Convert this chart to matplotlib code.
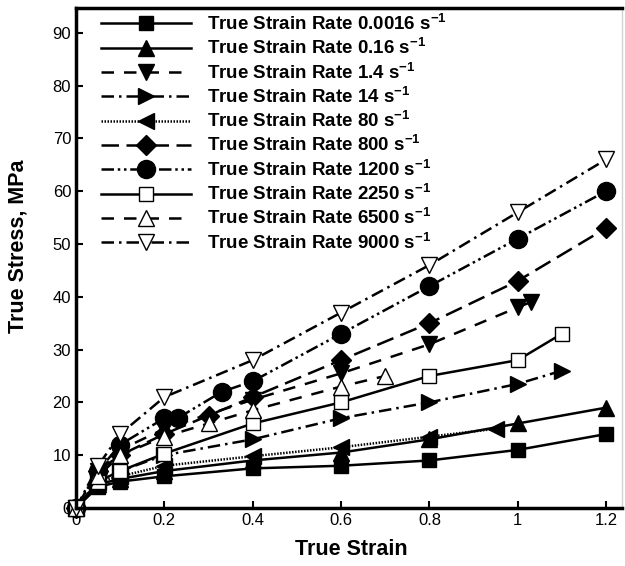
import numpy as np
import matplotlib
matplotlib.use('Agg')
import matplotlib.pyplot as plt

plt.rcParams['font.family'] = ['Liberation Sans', 'DejaVu Sans']
plt.rcParams['mathtext.fontset'] = 'custom'
plt.rcParams['mathtext.rm'] = 'Liberation Sans'
plt.rcParams['mathtext.bf'] = 'Liberation Sans:bold'
plt.rcParams['mathtext.default'] = 'bf'

# 数据
rates = ['0.0016', '0.16', '1.4', '14', '80', '800', '1200', '2250', '6500', '9000']

strain_0p0016 = [0, 0.05, 0.1, 0.2, 0.4, 0.6, 0.8, 1.0, 1.2]
stress_0p0016 = [0, 4, 5, 6, 7.5, 8, 9, 11, 14]

strain_0p16 = [0, 0.05, 0.1, 0.2, 0.4, 0.6, 0.8, 1.0, 1.2]
stress_0p16 = [0, 4.5, 5.5, 7, 9, 10.5, 13, 16, 19]

strain_1p4 = [0, 0.05, 0.1, 0.2, 0.4, 0.6, 0.8, 1.0, 1.03]
stress_1p4 = [0, 7, 11, 15, 20.5, 25.5, 31, 38, 39]

strain_14 = [0, 0.05, 0.1, 0.2, 0.4, 0.6, 0.8, 1.0, 1.1]
stress_14 = [0, 5, 7, 10, 13, 17, 20, 23.5, 26]

strain_80 = [0, 0.05, 0.1, 0.2, 0.4, 0.6, 0.8, 0.95]
stress_80 = [0, 5, 6, 8, 9.8, 11.5, 13.5, 15]

strain_800 = [0, 0.05, 0.1, 0.2, 0.3, 0.4, 0.6, 0.8, 1.0, 1.2]
stress_800 = [0, 7, 10, 14, 17.5, 21, 28, 35, 43, 53]

strain_1200 = [0, 0.05, 0.1, 0.2, 0.23, 0.33, 0.4, 0.6, 0.8, 1.0, 1.2]
stress_1200 = [0, 7, 12, 17, 17, 22, 24, 33, 42, 51, 60]

strain_2250 = [0, 0.05, 0.1, 0.2, 0.4, 0.6, 0.8, 1.0, 1.1]
stress_2250 = [0, 5, 7, 10.3, 16, 20, 25, 28, 33]

strain_6500 = [0, 0.05, 0.1, 0.2, 0.3, 0.4, 0.6, 0.7]
stress_6500 = [0, 6, 10, 13.5, 16, 18.5, 23, 25]

strain_9000 = [0, 0.05, 0.1, 0.2, 0.4, 0.6, 0.8, 1.0, 1.2]
stress_9000 = [0, 8, 14, 21, 28, 37, 46, 56, 66]

strains = [strain_0p0016, strain_0p16, strain_1p4, strain_14, strain_80,
           strain_800, strain_1200, strain_2250, strain_6500, strain_9000]
stresses = [stress_0p0016, stress_0p16, stress_1p4, stress_14, stress_80,
            stress_800, stress_1200, stress_2250, stress_6500, stress_9000]

# 线型 / 标记
styles = [
    dict(ls='-', marker='s', mfc='black', ms=10),
    dict(ls='-', marker='^', mfc='black', ms=12),
    dict(ls=(0, (5, 4)), marker='v', mfc='black', ms=12),
    dict(ls=(0, (5, 2, 1, 2)), marker='>', mfc='black', ms=11),
    dict(ls=(0, (0.6, 0.6)), marker='<', mfc='black', ms=11),
    dict(ls=(0, (7, 3)), marker='D', mfc='black', ms=10),
    dict(ls=(0, (5, 1.5, 1, 1.5, 1, 1.5)), marker='o', mfc='black', ms=13),
    dict(ls='-', marker='s', mfc='white', ms=9.5),
    dict(ls=(0, (5, 4)), marker='^', mfc='white', ms=11),
    dict(ls=(0, (5, 2, 1, 2)), marker='v', mfc='white', ms=11),
]

fig = plt.figure(figsize=(6.25, 5.66), dpi=100)
ax = fig.add_axes([0.1216, 0.1025, 0.8736, 0.8835])

for rate, x, y, st in zip(rates, strains, stresses, styles):
    ax.plot(x, y, color='black', lw=1.8, mec='black', mew=1.0,
            label=f'True Strain Rate {rate} s$^{{-1}}$', clip_on=False, **st)

ax.set_xlim(0, 1.236)
ax.set_ylim(0, 94.7)
ax.set_xticks([0, 0.2, 0.4, 0.6, 0.8, 1.0, 1.2])
ax.set_xticklabels(['0', '0.2', '0.4', '0.6', '0.8', '1', '1.2'])
ax.set_yticks(np.arange(0, 91, 10))
ax.tick_params(direction='in', length=5, width=1.5, labelsize=12)

for side in ['left', 'bottom', 'top']:
    ax.spines[side].set_linewidth(2.5)
ax.spines['right'].set_color('lightgray')
ax.spines['right'].set_linewidth(1)

ax.set_xlabel('True Strain', fontsize=15.5, fontweight='bold', va='top')
ax.set_ylabel('True Stress, MPa', fontsize=15.5, fontweight='bold')
ax.xaxis.set_label_coords(0.505, -0.062)
ax.yaxis.set_label_coords(-0.087, 0.524)

leg = ax.legend(loc='upper left', bbox_to_anchor=(0.015, 1.022), frameon=False,
                handlelength=4.8, handletextpad=0.85, labelspacing=0.225,
                prop={'size': 13.5, 'weight': 'bold'})

fig.savefig('out.png', dpi=100)
